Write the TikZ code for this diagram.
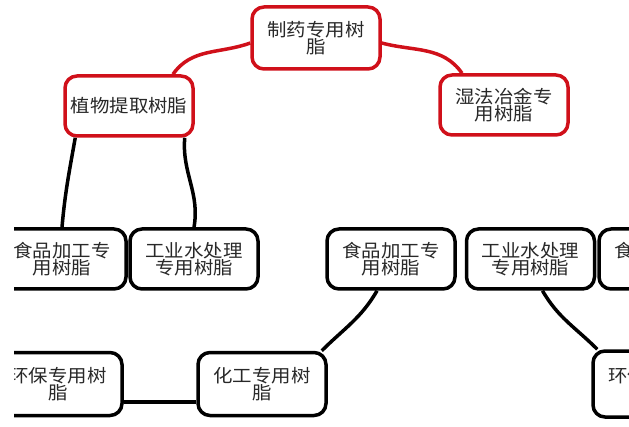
\documentclass[tikz,border=0pt]{standalone}
\usepackage{fontspec}
\usepackage{xcolor}
\usetikzlibrary{positioning,calc}
\newfontfamily\cjk[FakeStretch=1.08]{Noto Sans CJK SC}
\definecolor{mapred}{RGB}{208,16,26}
\definecolor{maptext}{RGB}{40,40,40}

\begin{document}
\begin{tikzpicture}[
    x=1pt, y=1pt,
    every node/.style={rectangle, draw, rounded corners=12pt, line width=3.5pt, fill=white,
        align=center, minimum width=128pt, minimum height=60pt, inner sep=2pt,
        text=maptext, font=\cjk\fontsize{18}{17}\selectfont},
    root/.style={draw=mapred, minimum height=62pt},
    branch/.style={draw=mapred},
    link/.style={line width=3.5pt},
    redlink/.style={link, draw=mapred}
]
    \useasboundingbox (0,0) rectangle (629,426);
    \clip (14,0) rectangle (629,426);

    % top
    \node[root] (pharm) at (316,388) {制药专用树\\脂};
    \node[branch] (plant) at (129,320) {植物提取树脂};
    \node[branch] (metal) at (504,321) {湿法冶金专\\用树脂};

    % middle row
    \node (foodA) at (62,167) {食品加工专\\用树脂};
    \node (waterA) at (194,167) {工业水处理\\专用树脂};
    \node (food) at (391,167) {食品加工专\\用树脂};
    \node (water) [right=8pt of food] {工业水处理\\专用树脂};
    \node (foodC) at (663,167) {食品加工专\\用树脂};

    % bottom row
    \node[minimum height=63pt] (envL) at (58,42) {环保专用树\\脂};
    \node[minimum height=63pt] (chem) at (262,42) {化工专用树\\脂};
    \node[minimum height=66pt] (envR) at (657,42) {环保专用树\\脂};

    \draw[redlink] ([yshift=-5pt]pharm.west) to[out=200,in=55] ([xshift=44pt]plant.north);
    \draw[redlink] ([yshift=-5pt]pharm.east) to[out=-15,in=125] ([xshift=-42pt]metal.north);

    \draw[link] ([xshift=12pt]plant.south west) to[out=-100,in=85] (foodA.north);
    \draw[link] ([xshift=-10pt]plant.south east) to[out=-95,in=80] (waterA.north);
    \draw[link] ([xshift=-14pt]food.south) to[out=-120,in=45] ([xshift=-6pt]chem.north east);
    \draw[link] ([xshift=12pt]water.south) to[out=-60,in=135] ([xshift=6pt]envR.north west);
    \draw[link] ([yshift=-18pt]chem.west) -- ([yshift=-18pt]envL.east);
\end{tikzpicture}
\end{document}
